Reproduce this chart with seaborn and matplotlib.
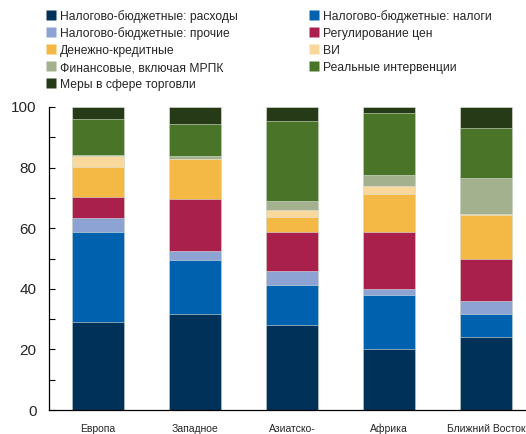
import numpy as np
import pandas as pd
import matplotlib
matplotlib.use("Agg")
import matplotlib.pyplot as plt
from matplotlib.lines import Line2D
import seaborn as sns

regions = ["Европа", "Западное", "Азиатско-", "Африка", "Ближний Восток"]
series_names = [
    "Налогово-бюджетные: расходы",
    "Налогово-бюджетные: налоги",
    "Налогово-бюджетные: прочие",
    "Регулирование цен",
    "Денежно-кредитные",
    "ВИ",
    "Финансовые, включая МРПК",
    "Реальные интервенции",
    "Меры в сфере торговли",
]
fiscal_spending = [28.9, 31.7, 27.9, 20.2, 24.2]
fiscal_taxes = [29.7, 17.9, 13.2, 17.6, 7.6]
fiscal_other = [4.8, 3.0, 4.8, 2.0, 4.1]
price_regulation = [6.9, 17.0, 12.9, 18.8, 14.1]
monetary = [9.8, 13.2, 5.0, 12.7, 14.2]
fx_interventions = [3.8, 0.0, 2.2, 2.6, 0.6]
financial = [0.4, 0.9, 2.9, 3.6, 11.7]
real_interventions = [11.8, 10.8, 26.4, 20.4, 16.5]
trade_measures = [3.9, 5.5, 4.7, 2.1, 7.0]

series_values = [fiscal_spending, fiscal_taxes, fiscal_other, price_regulation,
                 monetary, fx_interventions, financial, real_interventions,
                 trade_measures]
colors = ["#003259", "#0061AF", "#8DA3D3", "#A8204B", "#F4B944",
          "#F8D89D", "#A3B18E", "#4A7428", "#263A17"]

sns.set_style("white")
plt.rcParams['font.family'] = ['Liberation Sans', 'DejaVu Sans']

fig = plt.figure(figsize=(5.26, 4.34), dpi=100)
ax = fig.add_axes([49 / 526, 24 / 434, 477 / 526, 303 / 434])

cum = np.cumsum(np.array(series_values, dtype=float), axis=0)
for i in range(len(series_names) - 1, -1, -1):
    df = pd.DataFrame({"region": regions, "value": cum[i]})
    sns.barplot(data=df, x="region", y="value", ax=ax, color=colors[i],
                width=0.54, saturation=1, edgecolor="#dfe6dd", linewidth=0.4,
                order=regions)

ax.set_xlim(-0.505, 4.41)
ax.set_ylim(0, 100)
ax.set_yticks(np.arange(0, 101, 20))
ax.set_yticks(np.arange(0, 101, 10), minor=True)
ax.tick_params(axis="y", which="both", direction="in", length=4, width=0.8,
               labelsize=11, pad=9, left=True, color="black")
ax.tick_params(axis="x", length=0, labelsize=7.5, pad=10)
ax.set_xlabel("")
ax.set_ylabel("")
for s in ["top", "right"]:
    ax.spines[s].set_visible(False)
for s in ["left", "bottom"]:
    ax.spines[s].set_color("black")
    ax.spines[s].set_linewidth(0.9)

handles = [Line2D([], [], linestyle="none", marker="s", markersize=6.5,
                  markerfacecolor=c, markeredgecolor="none") for c in colors]
order = [0, 2, 4, 6, 8, 1, 3, 5, 7]
fig.legend([handles[k] for k in order], [series_names[k] for k in order],
           ncol=2, loc="upper left", bbox_to_anchor=(44 / 526, 1 - 7 / 434),
           frameon=False, fontsize=8.7, handlelength=0.8, handleheight=1.25,
           handletextpad=0.3, labelspacing=0.3, columnspacing=5.95,
           borderaxespad=0, borderpad=0.2)

fig.savefig("out.png", dpi=100)
